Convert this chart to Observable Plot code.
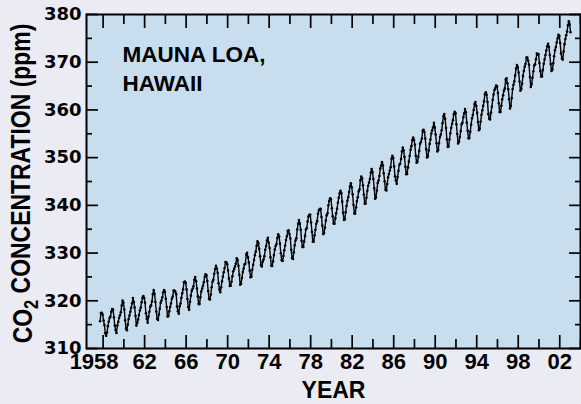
<!DOCTYPE html>
<html><head><meta charset="utf-8">
<script src="https://cdn.jsdelivr.net/npm/d3@7"></script>
<script src="https://cdn.jsdelivr.net/npm/@observablehq/plot@0.6"></script>
<style>
html,body{margin:0;padding:0;background:#ebebf4;}
#chart svg{display:block;}
</style></head><body><div id="chart"></div>
<script>
// Monthly CO2 (ppm), Mauna Loa; series starts March 1958, ends July 2003
const startYear = 1958, startMonth = 3;
const co2_1958_59 = [315.71,317.45,317.50,317.10,315.86,314.93,313.20,312.66,313.33,314.67,
  315.62,316.38,316.71,317.72,318.29,318.15,316.54,314.80,313.84,313.26,314.80,315.58];
const co2_1960s = [
  316.43,316.97,317.58,319.02,320.03,319.59,318.18,315.91,314.16,313.83,315.00,316.19,
  316.93,317.70,318.54,319.48,320.58,319.77,318.57,316.79,314.80,315.38,316.10,317.01,
  317.94,318.56,319.68,320.63,321.01,320.55,319.58,317.40,316.26,315.42,316.69,317.69,
  318.74,319.08,319.86,321.39,322.25,321.47,319.74,317.77,316.21,315.99,317.12,318.31,
  319.57,320.07,320.73,321.77,322.25,321.89,320.44,318.70,316.70,316.79,317.79,318.71,
  319.44,320.44,320.89,322.13,322.16,321.87,321.39,318.80,317.81,317.30,318.87,319.42,
  320.62,321.59,322.39,323.87,324.01,323.75,322.39,320.37,318.64,318.10,319.79,321.08,
  322.07,322.50,323.04,324.42,325.00,324.09,322.55,320.92,319.31,319.31,320.72,321.96,
  322.57,323.15,323.89,325.02,325.57,325.36,324.14,322.03,320.41,320.25,321.31,322.84,
  324.00,324.42,325.64,326.66,327.34,326.76,325.88,323.67,322.38,321.78,322.85,324.11];
const co2_1970s = [
  325.03,325.99,326.87,328.13,328.07,327.66,326.35,324.69,323.10,323.16,323.98,325.13,
  326.17,326.68,327.18,327.78,328.92,328.57,327.34,325.46,323.36,323.57,324.80,326.01,
  326.77,327.63,327.75,329.72,330.07,329.09,328.05,326.32,324.93,325.06,326.50,327.55,
  328.54,329.56,330.30,331.50,332.48,332.07,330.87,329.31,327.51,327.18,328.16,328.64,
  329.35,330.71,331.48,332.65,333.20,332.16,331.07,329.12,327.32,327.28,328.30,329.58,
  330.73,331.46,331.90,333.17,333.94,333.45,331.97,329.95,328.50,328.34,329.37,330.58,
  331.59,332.75,333.52,334.64,334.77,334.00,333.06,330.68,328.95,328.75,330.15,331.62,
  332.66,333.13,334.95,336.13,336.93,336.17,334.88,332.56,331.29,331.27,332.41,333.60,
  334.95,335.25,336.66,337.69,338.03,338.01,336.41,334.41,332.37,332.41,333.75,334.90,
  336.14,336.69,338.27,338.95,339.21,339.26,337.54,335.75,333.98,334.19,335.31,336.81];
const co2_1980s = [
  337.90,338.34,340.01,340.93,341.48,341.33,339.40,337.70,336.19,336.15,337.27,338.32,
  339.29,340.55,341.61,342.53,343.03,342.54,340.78,338.44,336.95,337.08,338.58,339.88,
  340.96,341.73,342.81,343.97,344.63,343.79,342.32,340.09,338.28,338.29,339.60,340.90,
  341.68,342.90,343.33,345.25,346.03,345.63,344.19,342.27,340.35,340.38,341.59,343.05,
  344.10,344.79,345.52,346.84,347.63,346.98,345.53,343.55,341.40,341.67,343.10,344.70,
  345.21,346.16,347.74,348.34,349.06,348.38,346.72,345.02,343.27,343.13,344.49,345.88,
  346.56,347.28,348.01,349.77,350.38,349.93,348.16,346.08,345.22,344.51,345.93,347.22,
  348.52,348.73,349.73,351.31,352.09,351.53,350.11,348.08,346.52,346.59,347.96,349.16,
  350.39,351.64,352.41,353.69,354.21,353.72,352.69,350.40,348.92,349.13,350.20,351.41,
  352.91,353.27,353.96,355.64,355.86,355.37,353.99,351.81,350.05,350.25,351.49,352.85];
const co2_1990s = [
  353.80,355.04,355.73,356.32,357.32,356.34,354.84,353.01,351.31,351.62,353.07,354.33,
  354.84,355.73,357.23,358.66,359.13,358.13,356.19,353.85,352.25,352.35,353.81,355.12,
  356.25,357.11,357.86,359.09,359.59,359.33,357.01,354.94,352.96,353.32,354.32,355.57,
  357.00,357.31,358.47,359.27,360.19,359.52,357.33,355.64,354.03,354.12,355.41,356.91,
  358.24,358.92,359.99,361.23,361.65,360.81,359.38,357.46,355.73,356.08,357.53,358.98,
  359.92,360.86,361.83,363.30,363.69,363.19,361.64,359.12,358.17,357.99,359.45,360.68,
  362.07,363.24,364.17,364.57,365.13,364.92,363.55,361.38,359.54,359.58,360.89,362.24,
  363.09,364.03,364.51,366.35,366.64,365.59,364.31,362.25,360.29,360.82,362.49,364.38,
  365.26,365.98,367.24,368.66,369.42,368.99,367.82,365.95,364.02,364.40,365.52,367.13,
  368.18,369.07,369.68,370.99,370.96,370.30,369.45,366.90,364.81,365.37,366.72,368.10];
const co2_2000s = [
  369.29,369.55,370.60,371.82,371.58,371.70,369.86,368.13,367.00,367.03,368.37,369.67,
  370.59,371.51,372.43,373.37,373.85,373.22,371.50,369.61,368.18,368.45,369.76,371.24,
  372.53,373.20,374.12,375.02,375.76,375.52,374.01,371.85,370.75,370.55,372.25,373.79,
  374.88,375.64,376.45,377.73,378.60,377.96,376.28];

const xMajorYears = [1958,1962,1966,1970,1974,1978,1982,1986,1990,1994,1998,2002];
const xMinorYears = [1960,1964,1968,1972,1976,1980,1984,1988,1992,1996,2000,2004];
const yMajor = [310,320,330,340,350,360,370,380];
const yMinor = [315,325,335,345,355,365,375];
const siteLabel = "MAUNA LOA,\nHAWAII";
const xLabel = "YEAR";
const yLabelParts = ["CO", "2", " CONCENTRATION (ppm)"];

const series = [...co2_1958_59, ...co2_1960s, ...co2_1970s, ...co2_1980s, ...co2_1990s, ...co2_2000s];
const data = series.map((v, i) => {
  const m = startMonth - 1 + i;
  return {t: startYear + Math.floor(m / 12) + ((m % 12) + 0.5) / 12, co2: v};
});
const mid = y => y + 0.5; // year ticks sit at mid-year
const blank = () => "";
const tickOpts = {tickFormat: blank, label: null, strokeWidth: 1.7};
const yearFmt = d => { const y = Math.round(d - 0.5); return y === 1958 ? "1958" : String(y).slice(2); };
const xLabelOpts = {anchor: "bottom", tickSize: 0, tickPadding: 5, label: null, fontSize: 22, fontWeight: "bold", tickFormat: yearFmt};

const chart = Plot.plot({
  width: 581, height: 404,
  marginLeft: 86, marginRight: 1, marginTop: 14, marginBottom: 56,
  style: {fontFamily: "Liberation Sans, Arial, sans-serif", fontWeight: "bold", background: "transparent", color: "black"},
  x: {domain: [1956.9, 2004.5]},
  y: {domain: [310, 380]},
  marks: [
    Plot.frame({fill: "#c8deee", stroke: null}),
    Plot.line(data, {x: "t", y: "co2", stroke: "black", strokeWidth: 1.4}),
    Plot.dot(data, {x: "t", y: "co2", r: 1.3, fill: "black", stroke: null}),
    Plot.axisY(yMajor, {anchor: "left", tickSize: -12, ...tickOpts}),
    Plot.axisY(yMinor, {anchor: "left", tickSize: -6, ...tickOpts}),
    Plot.axisY(yMajor, {anchor: "right", tickSize: -12, ...tickOpts}),
    Plot.axisY(yMinor, {anchor: "right", tickSize: -6, ...tickOpts}),
    Plot.axisX(xMajorYears.map(mid), {anchor: "bottom", tickSize: -13, ...tickOpts}),
    Plot.axisX(xMinorYears.map(mid), {anchor: "bottom", tickSize: -9, ...tickOpts}),
    Plot.axisX(xMajorYears.map(mid), {anchor: "top", tickSize: -13, ...tickOpts}),
    Plot.axisX(xMinorYears.map(mid), {anchor: "top", tickSize: -9, ...tickOpts}),
    Plot.axisY(yMajor, {anchor: "left", tickSize: 0, tickPadding: 5, label: null,
      fontSize: 18, fontFamily: "DejaVu Sans", fontWeight: "bold"}),
    Plot.axisX(xMajorYears.slice(1).map(mid), xLabelOpts),
    Plot.axisX(xMajorYears.slice(0, 1).map(mid), {...xLabelOpts, dx: -9}),
    Plot.text([xLabel], {frameAnchor: "bottom", lineAnchor: "middle", dy: 42, fontSize: 23, fontWeight: "bold"}),
    Plot.text([yLabelParts.join("")], {frameAnchor: "left", textAnchor: "middle", lineAnchor: "middle", rotate: -90,
      dx: -63, dy: 2, fontSize: 27, fontFamily: "Liberation Sans, Arial, sans-serif", fontWeight: "bold"}),
    Plot.text([siteLabel], {frameAnchor: "top-left", dx: 36, dy: 27, lineAnchor: "top", textAnchor: "start",
      fontSize: 22.5, lineHeight: 1.28, fontWeight: "bold", fontFamily: "Liberation Sans, Arial, sans-serif"}),
    Plot.frame({stroke: "black", strokeWidth: 2})
  ]
});
document.getElementById("chart").appendChild(chart);

// subscript 2 in the y-axis label, squeezed along its length like the reference's lettering
d3.select(chart).selectAll("text").filter(function() { return this.textContent === yLabelParts.join(""); })
  .each(function() {
    const t = d3.select(this);
    t.text(null);
    t.append("tspan").text(yLabelParts[0]);
    t.append("tspan").attr("dy", "0.3em").attr("font-size", "0.72em").text(yLabelParts[1]);
    t.append("tspan").attr("dy", "-0.3em").text(yLabelParts[2]);
    const tr = t.attr("transform") || "";
    t.attr("transform", tr + " scale(0.85,1)");
  });
</script></body></html>
